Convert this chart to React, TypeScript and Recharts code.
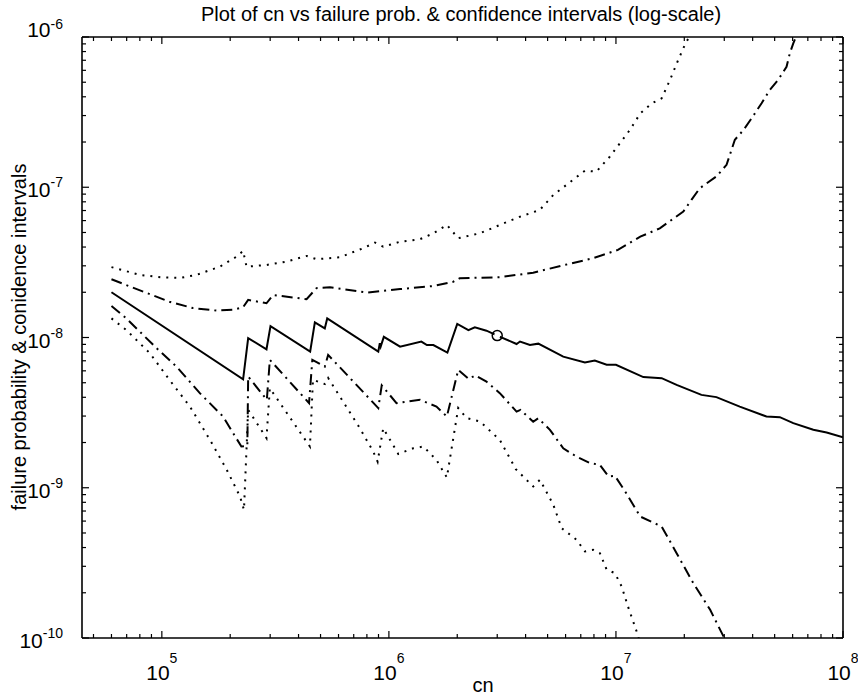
import React from 'react';
import { ComposedChart, Line, XAxis, YAxis } from 'recharts';

// estimate (solid)
const estX = [6e4, 2.28e5, 2.4e5, 2.89e5, 3.01e5, 4.5e5, 4.72e5, 5.22e5, 5.35e5, 8.98e5, 9.12e5, 9.2e5, 9.5e5, 1.12e6, 1.39e6, 1.47e6, 1.57e6, 1.81e6, 2.0e6, 2.24e6, 2.39e6, 2.69e6, 3.0e6, 3.65e6, 3.78e6, 4.18e6, 4.55e6, 5.86e6, 7.3e6, 8.07e6, 9.1e6, 1.0e7, 1.32e7, 1.59e7, 1.85e7, 2.38e7, 2.77e7, 3.51e7, 4.6e7, 5.27e7, 6.04e7, 7.4e7, 8.47e7, 1e8];
const estY = [2.0e-8, 5.27e-9, 9.9e-9, 8.35e-9, 1.19e-8, 8.05e-9, 1.26e-8, 1.15e-8, 1.34e-8, 8.05e-9, 9.16e-9, 8.7e-9, 1.01e-8, 8.69e-9, 9.4e-9, 8.9e-9, 8.9e-9, 7.94e-9, 1.23e-8, 1.12e-8, 1.17e-8, 1.11e-8, 1.03e-8, 9.05e-9, 9.4e-9, 8.93e-9, 9.1e-9, 7.46e-9, 6.81e-9, 7.02e-9, 6.58e-9, 6.58e-9, 5.45e-9, 5.36e-9, 4.84e-9, 4.15e-9, 4.01e-9, 3.47e-9, 2.98e-9, 2.95e-9, 2.69e-9, 2.43e-9, 2.33e-9, 2.17e-9];

// upper confidence (dash-dot)
const upCX = [6e4, 8.28e4, 1.08e5, 1.37e5, 1.74e5, 2.06e5, 2.28e5, 2.4e5, 2.89e5, 3.09e5, 4.34e5, 4.8e5, 5.5e5, 7.98e5, 1.12e6, 1.57e6, 1.92e6, 2.05e6, 3.08e6, 4.32e6, 6.0e6, 7.94e6, 1.02e7, 1.28e7, 1.56e7, 1.98e7, 2.15e7, 2.34e7, 2.77e7, 3.07e7, 3.34e7, 3.64e7, 3.96e7, 4.38e7, 4.76e7, 5.18e7, 5.64e7, 5.83e7, 6.04e7, 6.2e7];
const upCY = [2.44e-8, 2.02e-8, 1.73e-8, 1.57e-8, 1.51e-8, 1.53e-8, 1.59e-8, 1.78e-8, 1.69e-8, 1.92e-8, 1.8e-8, 2.13e-8, 2.16e-8, 1.99e-8, 2.1e-8, 2.2e-8, 2.35e-8, 2.48e-8, 2.52e-8, 2.7e-8, 3.05e-8, 3.37e-8, 3.83e-8, 4.69e-8, 5.33e-8, 6.89e-8, 8.24e-8, 9.85e-8, 1.18e-7, 1.41e-7, 2.07e-7, 2.4e-7, 2.88e-7, 3.62e-7, 4.44e-7, 5.18e-7, 6.34e-7, 7.78e-7, 9.08e-7, 1e-6];

// upper confidence (dotted)
const upDX = [6e4, 8.0e4, 1.01e5, 1.2e5, 1.42e5, 1.8e5, 2.13e5, 2.28e5, 2.36e5, 2.89e5, 3.54e5, 4.34e5, 4.8e5, 6.08e5, 7.71e5, 8.68e5, 9.44e5, 1.12e6, 1.37e6, 1.57e6, 1.8e6, 2.02e6, 2.52e6, 3.08e6, 3.78e6, 4.62e6, 5.3e6, 6.07e6, 7.3e6, 8.2e6, 9.4e6, 1.04e7, 1.15e7, 1.28e7, 1.44e7, 1.59e7, 1.73e7, 1.88e7, 2.01e7, 2.1e7];
const upDY = [2.94e-8, 2.61e-8, 2.51e-8, 2.49e-8, 2.61e-8, 2.96e-8, 3.45e-8, 3.77e-8, 2.96e-8, 3.04e-8, 3.2e-8, 3.49e-8, 3.32e-8, 3.42e-8, 3.93e-8, 4.28e-8, 4.02e-8, 4.34e-8, 4.51e-8, 4.94e-8, 5.61e-8, 4.58e-8, 4.94e-8, 5.61e-8, 6.37e-8, 7.06e-8, 8.89e-8, 1.04e-7, 1.29e-7, 1.27e-7, 1.6e-7, 1.96e-7, 2.4e-7, 3.1e-7, 3.62e-7, 3.91e-7, 5.18e-7, 7.03e-7, 8.85e-7, 1e-6];

// lower confidence (dash-dot)
const loCX = [6e4, 6.98e4, 9.48e4, 1.16e5, 1.47e5, 1.86e5, 2.24e5, 2.38e5, 2.4e5, 2.9e5, 2.99e5, 4.45e5, 4.6e5, 5.22e5, 5.4e5, 8.98e5, 9.3e5, 1.08e6, 1.37e6, 1.62e6, 1.8e6, 2.02e6, 2.25e6, 2.4e6, 2.69e6, 3.08e6, 3.65e6, 3.8e6, 4.32e6, 4.55e6, 5.12e6, 5.86e6, 6.71e6, 7.68e6, 8.5e6, 9.27e6, 9.9e6, 1.11e7, 1.28e7, 1.59e7, 1.85e7, 2.19e7, 2.6e7, 3.0e7];
const loCY = [1.62e-8, 1.34e-8, 8.49e-9, 6.4e-9, 4.26e-9, 2.98e-9, 1.88e-9, 1.9e-9, 5.5e-9, 3.85e-9, 7.1e-9, 3.66e-9, 7.1e-9, 6.4e-9, 7.66e-9, 3.39e-9, 4.8e-9, 3.66e-9, 3.85e-9, 3.47e-9, 2.98e-9, 6.08e-9, 5.3e-9, 5.6e-9, 5.09e-9, 4.26e-9, 3.21e-9, 3.3e-9, 2.75e-9, 2.9e-9, 2.43e-9, 1.83e-9, 1.61e-9, 1.46e-9, 1.42e-9, 1.19e-9, 1.2e-9, 9.2e-10, 6.43e-10, 5.52e-10, 3.67e-10, 2.32e-10, 1.54e-10, 1e-10];

// lower confidence (dotted)
const loDX = [6e4, 6.98e4, 8.85e4, 1.08e5, 1.33e5, 1.63e5, 1.93e5, 2.21e5, 2.3e5, 2.4e5, 2.89e5, 2.99e5, 4.49e5, 4.63e5, 5.22e5, 5.4e5, 7.45e5, 8.53e5, 8.92e5, 9.44e5, 1.1e6, 1.28e6, 1.42e6, 1.62e6, 1.8e6, 2.02e6, 2.2e6, 2.52e6, 3.08e6, 3.62e6, 4.32e6, 4.63e6, 5.3e6, 5.77e6, 6.71e6, 7.3e6, 7.94e6, 8.5e6, 9.1e6, 9.9e6, 1.06e7, 1.13e7, 1.24e7, 1.26e7];
const loDY = [1.34e-8, 1.12e-8, 7.87e-9, 5.23e-9, 3.47e-9, 2.08e-9, 1.32e-9, 8.74e-10, 7.13e-10, 3.3e-9, 2.14e-9, 4.59e-9, 1.88e-9, 5.23e-9, 4.9e-9, 5.38e-9, 2.49e-9, 1.74e-9, 1.49e-9, 2.49e-9, 1.68e-9, 1.83e-9, 1.88e-9, 1.53e-9, 1.17e-9, 3.39e-9, 2.91e-9, 2.76e-9, 2.08e-9, 1.33e-9, 1.02e-9, 1.13e-9, 7.69e-10, 5.38e-10, 4.5e-10, 3.77e-10, 3.87e-10, 3.67e-10, 2.85e-10, 2.7e-10, 2.2e-10, 1.62e-10, 1.08e-10, 1e-10];

// the single marked point
const markX = [3.0e6];
const markY = [1.03e-8];

const xDomain = [44500, 1e8];
const yDomain = [1e-10, 1e-6];
const xDecades = [1e4, 1e5, 1e6, 1e7];
const yDecades = [1e-10, 1e-9, 1e-8, 1e-7];

const minorTicks = (decades: number[], lo: number, hi: number) => {
    const out: number[] = [];
    decades.forEach((d) => {
        for (let m = 1; m <= 9; m++) {
            const v = m * d;
            if (v >= lo && v <= hi) out.push(v);
        }
    });
    out.push(hi);
    return out;
};

const xTicks = minorTicks(xDecades, xDomain[0], xDomain[1]);
const yTicks = minorTicks(yDecades, yDomain[0], yDomain[1]);

const toPoints = (xs: number[], ys: number[]) => xs.map((x, i) => ({ x, y: ys[i] }));

const FONT = '"Liberation Sans", Arial, Helvetica, sans-serif';

const LogTick = (props: any) => {
    const { x, y, payload, side } = props;
    const v = payload.value;
    const lg = Math.log10(v);
    const exp = Math.round(lg);
    const major = Math.abs(lg - exp) < 1e-6;
    const len = major ? 7 : 4;
    let line;
    if (side === 'bottom') line = <line x1={x} y1={y} x2={x} y2={y - len} />;
    else if (side === 'top') line = <line x1={x} y1={y} x2={x} y2={y + len} />;
    else if (side === 'left') line = <line x1={x} y1={y} x2={x + len} y2={y} />;
    else line = <line x1={x} y1={y} x2={x - len} y2={y} />;

    let label = null;
    if (major && side === 'bottom') {
        label = (
            <text x={x} y={y + 42} textAnchor="middle" fontSize={21} fill="#000" fontFamily={FONT}>
                10<tspan dy={-17} fontSize={14}>{exp}</tspan>
            </text>
        );
    }
    if (major && side === 'left') {
        const top = exp === -6;
        label = (
            <text x={x - 19} y={top ? y : y + 10} textAnchor="end" fontSize={21} fill="#000" fontFamily={FONT}>
                10<tspan dy={top ? -8 : -10} fontSize={14}>{exp}</tspan>
            </text>
        );
    }
    return (
        <g>
            <g stroke="#000" strokeWidth={1.2}>{line}</g>
            {label}
        </g>
    );
};

const axisLine = { stroke: '#000', strokeWidth: 1.6 };

const App = () => {
    const mark = toPoints(markX, markY);
    return (
        <div style={{ position: 'absolute', left: 0, top: 0, width: 858, height: 698, background: '#fff' }}>
            <ComposedChart
                width={858}
                height={698}
                margin={{ top: 36, right: 14, bottom: 30, left: 22 }}
            >
                <XAxis
                    xAxisId="b"
                    dataKey="x"
                    type="number"
                    scale="log"
                    domain={xDomain}
                    allowDataOverflow
                    ticks={xTicks}
                    interval={0}
                    tickSize={0}
                    tickMargin={0}
                    tickLine={false}
                    tick={<LogTick side="bottom" />}
                    axisLine={axisLine}
                    height={30}
                />
                <XAxis
                    xAxisId="t"
                    orientation="top"
                    dataKey="x"
                    type="number"
                    scale="log"
                    domain={xDomain}
                    allowDataOverflow
                    ticks={xTicks}
                    interval={0}
                    tickSize={0}
                    tickMargin={0}
                    tickLine={false}
                    tick={<LogTick side="top" />}
                    axisLine={axisLine}
                    height={1}
                />
                <YAxis
                    yAxisId="l"
                    type="number"
                    scale="log"
                    domain={yDomain}
                    allowDataOverflow
                    ticks={yTicks}
                    interval={0}
                    tickSize={0}
                    tickMargin={0}
                    tickLine={false}
                    tick={<LogTick side="left" />}
                    axisLine={axisLine}
                    width={60}
                />
                <YAxis
                    yAxisId="r"
                    orientation="right"
                    type="number"
                    scale="log"
                    domain={yDomain}
                    allowDataOverflow
                    ticks={yTicks}
                    interval={0}
                    tickSize={0}
                    tickMargin={0}
                    tickLine={false}
                    tick={<LogTick side="right" />}
                    axisLine={axisLine}
                    width={1}
                />
                <Line xAxisId="b" yAxisId="l" data={toPoints(upDX, upDY)} dataKey="y" type="linear" stroke="#000" strokeWidth={2}
                      strokeDasharray="2 6" dot={false} activeDot={false} isAnimationActive={false} />
                <Line xAxisId="b" yAxisId="l" data={toPoints(upCX, upCY)} dataKey="y" type="linear" stroke="#000" strokeWidth={2}
                      strokeDasharray="11 5 2 5" dot={false} activeDot={false} isAnimationActive={false} />
                <Line xAxisId="b" yAxisId="l" data={toPoints(estX, estY)} dataKey="y" type="linear" stroke="#000" strokeWidth={2}
                      dot={false} activeDot={false} isAnimationActive={false} />
                <Line xAxisId="b" yAxisId="l" data={toPoints(loCX, loCY)} dataKey="y" type="linear" stroke="#000" strokeWidth={2}
                      strokeDasharray="11 5 2 5" dot={false} activeDot={false} isAnimationActive={false} />
                <Line xAxisId="b" yAxisId="l" data={toPoints(loDX, loDY)} dataKey="y" type="linear" stroke="#000" strokeWidth={2}
                      strokeDasharray="2 6" dot={false} activeDot={false} isAnimationActive={false} />
                <Line xAxisId="b" yAxisId="l" data={mark} dataKey="y" stroke="none"
                      dot={{ r: 5, fill: 'none', stroke: '#000', strokeWidth: 1.5 }}
                      activeDot={false} isAnimationActive={false} />
                {/* invisible series so the mirrored top/right axes have something bound to them */}
                <Line xAxisId="t" yAxisId="r" data={mark} dataKey="y" stroke="none" dot={false}
                      activeDot={false} isAnimationActive={false} />
            </ComposedChart>
            <svg width={858} height={698} style={{ position: 'absolute', left: 0, top: 0, pointerEvents: 'none' }}>
                <text x={461} y={21} textAnchor="middle" fontSize={20} fontFamily={FONT} fill="#000">
                    Plot of cn vs failure prob. &amp; confidence intervals (log-scale)
                </text>
                <text x={483} y={692} textAnchor="middle" fontSize={20} fontFamily={FONT} fill="#000">
                    cn
                </text>
                <text x={26} y={337} textAnchor="middle" fontSize={20} fontFamily={FONT} fill="#000"
                      transform="rotate(-90 26 337)">
                    failure probability &amp; conidence intervals
                </text>
            </svg>
        </div>
    );
};

export default App;
